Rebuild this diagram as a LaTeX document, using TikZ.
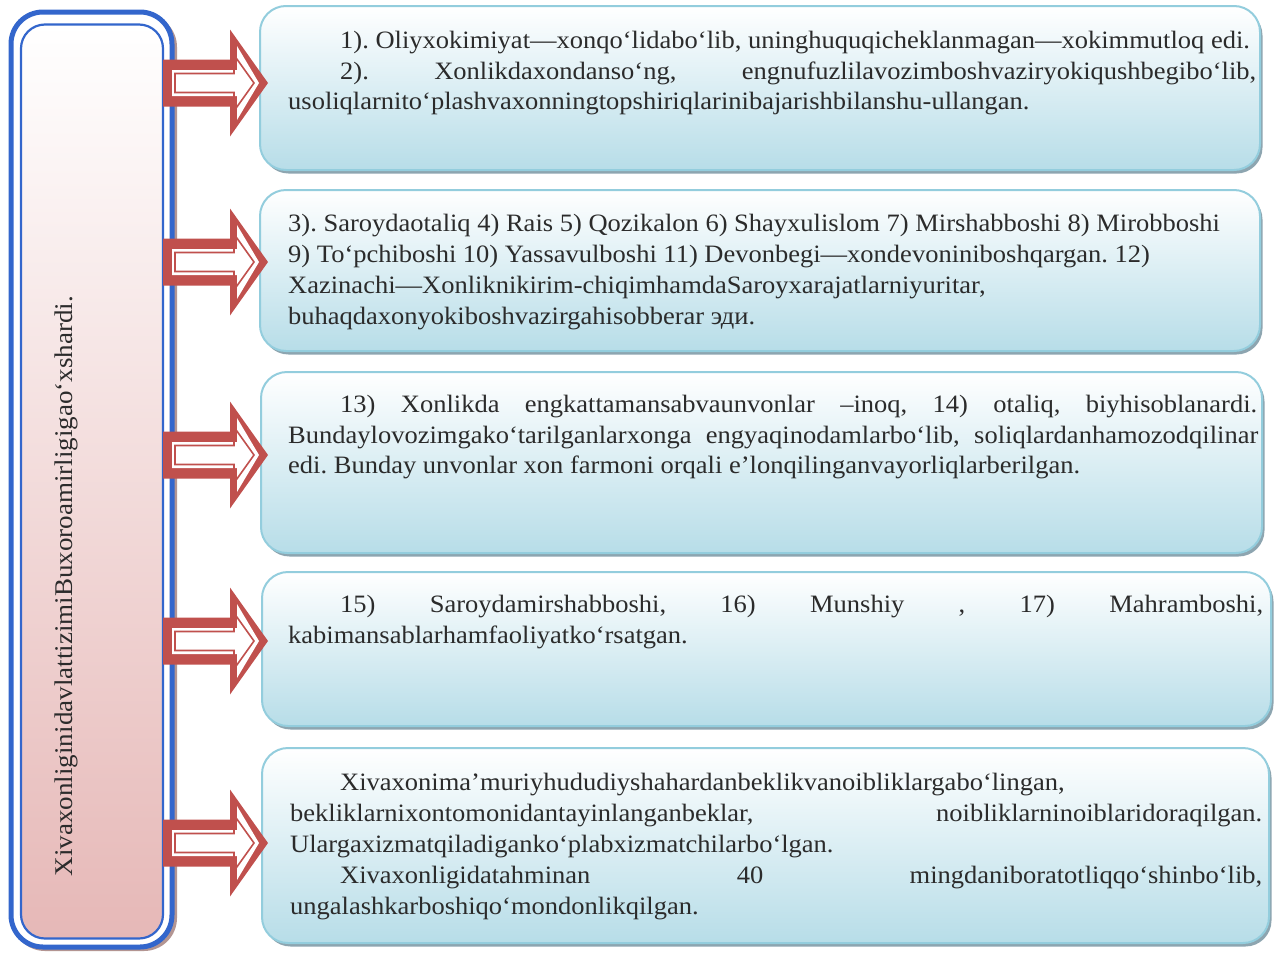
\documentclass[tikz,border=0pt]{standalone}
\usepackage{fontspec}
\setmainfont[FakeStretch=1.06]{Liberation Serif}
\usetikzlibrary{shadows}
\frenchspacing
\definecolor{arrowred}{HTML}{C0504D}
\definecolor{frameblue}{HTML}{3366CC}
\definecolor{framebrown}{HTML}{B39592}
\definecolor{boxline}{HTML}{93CDDD}
\definecolor{boxbottom}{HTML}{B7DDE8}
\definecolor{pinkbottom}{HTML}{E6B8B7}
\definecolor{shadowgray}{HTML}{8DA5B0}
\definecolor{textcol}{HTML}{2B2B2B}
\newcommand{\bodysize}{\fontsize{25}{28}\selectfont\frenchspacing}
\newcommand{\sidesize}{\fontsize{25.5}{28}\selectfont\frenchspacing}
\newcommand{\jline}[2]{\makebox[#1][s]{#2}}
\tikzset{
  infobox/.style={draw=boxline, line width=2pt, rounded corners=26pt,
    top color=white, bottom color=boxbottom, inner sep=0pt,
    drop shadow={shadow xshift=2.5pt, shadow yshift=-3.5pt, fill=shadowgray, opacity=1}},
  txt/.style={anchor=base west, inner sep=0pt, font=\bodysize, text=textcol},
  blockarrow/.pic={
    \fill[arrowred] (-105,-23.5) -- (-38,-23.5) -- (-38,-53.5) -- (0,0)
      -- (-38,53.5) -- (-38,23.5) -- (-105,23.5) -- cycle;
    \fill[white] (-96,-13) -- (-31,-13) -- (-31,-37) -- (-9,0)
      -- (-31,37) -- (-31,13) -- (-96,13) -- cycle;
    \draw[arrowred, line width=1.6pt, line join=miter] (-93,-9.5) -- (-34,-9.5) -- (-34,-28) -- (-14,0)
      -- (-34,28) -- (-34,9.5) -- (-93,9.5) -- cycle;
  }
}
\begin{document}
\begin{tikzpicture}[x=1pt,y=-1pt]
\useasboundingbox (0,0) rectangle (1285,956);
% left frame
\fill[framebrown, rounded corners=33pt] (12,14) rectangle (177,951);
\draw[frameblue, line width=5pt, fill=white, rounded corners=32pt] (11,12) rectangle (172,947);
\node[draw=frameblue, line width=2.2pt, rounded corners=24pt, top color=white, bottom color=pinkbottom,
  minimum width=142pt, minimum height=914pt, inner sep=0pt] (left) at (92,481.5) {};
\node[rotate=90, inner sep=0pt, font=\sidesize, text=textcol] (lefttext) at (66,586)
  {XivaxonliginidavlattizimiBuxoroamirligigao‘xshardi.};
% right boxes
\node[infobox, minimum width=1000pt, minimum height=164pt] (b1) at (760,88) {};
\node[infobox, minimum width=1000pt, minimum height=161pt] (b2) at (760,270.5) {};
\node[infobox, minimum width=1001pt, minimum height=181pt] (b3) at (761.5,462.5) {};
\node[infobox, minimum width=1009pt, minimum height=154pt] (b4) at (766.5,649) {};
\node[infobox, minimum width=1007pt, minimum height=195pt] (b5) at (765.5,845.5) {};
% arrows
\pic at (268,83) {blockarrow};
\pic at (268,262) {blockarrow};
\pic at (268,455) {blockarrow};
\pic at (268,641) {blockarrow};
\pic at (268,843) {blockarrow};
% box 1 text
\node[txt] (t1a) at (340,48) {1). Oliyxokimiyat—xonqo‘lidabo‘lib, uninghuquqicheklanmagan—xokimmutloq edi.};
\node[txt] (t1b) at (340,79) {\jline{916pt}{2). Xonlikdaxondanso‘ng, engnufuzlilavozimboshvaziryokiqushbegibo‘lib,}};
\node[txt] (t1c) at (288,109) {usoliqlarnito‘plashvaxonningtopshiriqlarinibajarishbilanshu-ullangan.};
% box 2 text
\node[txt] (t2a) at (288,231) {3). Saroydaotaliq 4) Rais 5) Qozikalon 6) Shayxulislom 7) Mirshabboshi 8) Mirobboshi};
\node[txt] (t2b) at (288,262) {9) To‘pchiboshi 10) Yassavulboshi 11) Devonbegi—xondevoniniboshqargan. 12)};
\node[txt] (t2c) at (288,293) {Xazinachi—Xonliknikirim-chiqimhamdaSaroyxarajatlarniyuritar,};
\node[txt] (t2d) at (288,324) {buhaqdaxonyokiboshvazirgahisobberar эди.};
% box 3 text
\node[txt] (t3a) at (340,412) {\jline{917pt}{13) Xonlikda engkattamansabvaunvonlar –inoq, 14) otaliq, biyhisoblanardi.}};
\node[txt] (t3b) at (288,443) {\jline{970pt}{Bundaylovozimgako‘tarilganlarxonga engyaqinodamlarbo‘lib, soliqlardanhamozodqilinar}};
\node[txt] (t3c) at (288,473) {edi. Bunday unvonlar xon farmoni orqali e’lonqilinganvayorliqlarberilgan.};
% box 4 text
\node[txt] (t4a) at (340,612) {\jline{923pt}{15) Saroydamirshabboshi, 16) Munshiy , 17) Mahramboshi,}};
\node[txt] (t4b) at (288,643) {kabimansablarhamfaoliyatko‘rsatgan.};
% box 5 text
\node[txt] (t5a) at (340,790) {Xivaxonima’muriyhududiyshahardanbeklikvanoibliklargabo‘lingan,};
\node[txt] (t5b) at (290,821) {\jline{972pt}{bekliklarnixontomonidantayinlanganbeklar, noibliklarninoiblaridoraqilgan.}};
\node[txt] (t5c) at (290,852) {Ulargaxizmatqiladiganko‘plabxizmatchilarbo‘lgan.};
\node[txt] (t5d) at (340,883) {\jline{922pt}{Xivaxonligidatahminan 40 mingdaniboratotliqqo‘shinbo‘lib,}};
\node[txt] (t5e) at (290,914) {ungalashkarboshiqo‘mondonlikqilgan.};
\end{tikzpicture}
\end{document}
